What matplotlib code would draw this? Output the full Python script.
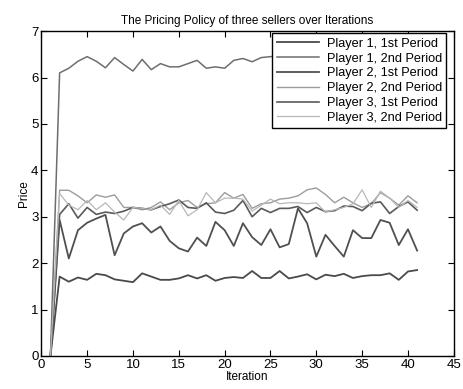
import numpy as np
import matplotlib
matplotlib.use('Agg')
import matplotlib.pyplot as plt

# ── Data
iterations = list(range(1, 42))

p1_first = [0, 1.71, 1.60, 1.69, 1.64, 1.77, 1.74, 1.65, 1.62, 1.59, 1.78,
            1.71, 1.64, 1.64, 1.67, 1.74, 1.67, 1.74, 1.62, 1.68, 1.70,
            1.68, 1.83, 1.68, 1.68, 1.83, 1.67, 1.71, 1.76, 1.65, 1.75,
            1.72, 1.77, 1.68, 1.72, 1.74, 1.74, 1.78, 1.64, 1.82, 1.85]

p1_second = [0, 6.10, 6.20, 6.35, 6.45, 6.35, 6.21, 6.43, 6.28, 6.14, 6.39,
             6.17, 6.30, 6.23, 6.23, 6.30, 6.37, 6.20, 6.23, 6.20, 6.37,
             6.41, 6.34, 6.43, 6.45, 6.46, 6.45, 6.48, 6.47, 6.50, 6.48,
             6.50, 6.49, 6.51, 6.50, 6.52, 6.50, 6.51, 6.52, 6.50, 6.52]

p2_first = [0, 2.93, 2.10, 2.71, 2.87, 2.96, 3.04, 2.17, 2.64, 2.79, 2.86,
            2.66, 2.79, 2.48, 2.32, 2.25, 2.55, 2.37, 2.89, 2.71, 2.37,
            2.86, 2.56, 2.39, 2.73, 2.34, 2.41, 3.18, 2.86, 2.14, 2.61,
            2.37, 2.14, 2.71, 2.54, 2.54, 2.93, 2.87, 2.39, 2.73, 2.27]

p2_second = [0, 3.57, 3.57, 3.45, 3.30, 3.47, 3.42, 3.47, 3.20, 3.20, 3.15,
             3.20, 3.32, 3.15, 3.30, 3.35, 3.20, 3.28, 3.30, 3.52, 3.40,
             3.48, 3.18, 3.28, 3.30, 3.38, 3.40, 3.45, 3.58, 3.62, 3.48,
             3.30, 3.42, 3.30, 3.20, 3.28, 3.52, 3.40, 3.25, 3.45, 3.30]

p3_first = [0, 3.05, 3.28, 2.97, 3.20, 3.05, 3.10, 3.07, 3.12, 3.20, 3.18,
            3.15, 3.22, 3.28, 3.36, 3.20, 3.18, 3.30, 3.10, 3.07, 3.14,
            3.35, 3.00, 3.18, 3.09, 3.18, 3.18, 3.22, 3.09, 3.20, 3.11,
            3.13, 3.23, 3.22, 3.13, 3.29, 3.32, 3.07, 3.22, 3.32, 3.14]

p3_second = [0, 3.50, 3.25, 3.15, 3.35, 3.15, 3.30, 3.10, 2.93, 3.20, 3.18,
             3.15, 3.25, 3.05, 3.35, 3.02, 3.15, 3.52, 3.30, 3.40, 3.40,
             3.38, 3.12, 3.25, 3.38, 3.28, 3.30, 3.30, 3.28, 3.30, 3.10,
             3.15, 3.20, 3.28, 3.58, 3.20, 3.55, 3.40, 3.20, 3.35, 3.20]

labels = ['Player 1, 1st Period', 'Player 1, 2nd Period',
          'Player 2, 1st Period', 'Player 2, 2nd Period',
          'Player 3, 1st Period', 'Player 3, 2nd Period']
series = [p1_first, p1_second, p2_first, p2_second, p3_first, p3_second]

# grayscale look of the scan
colors = ['#4a4a4a', '#6e6e6e', '#505050', '#9c9c9c', '#5a5a5a', '#b8b8b8']
widths = [1.3, 1.1, 1.3, 1.0, 1.2, 0.9]

plt.rcParams['font.family'] = ['Liberation Sans', 'DejaVu Sans']

fig = plt.figure(figsize=(4.64, 3.89), dpi=100)
ax = fig.add_axes([0.089, 0.085, 0.889, 0.835])

for y, lab, c, lw in zip(series, labels, colors, widths):
    ax.plot(iterations, y, color=c, linewidth=lw, label=lab)

ax.set_xlim(0, 45)
ax.set_ylim(0, 7)
ax.set_xticks(range(0, 46, 5))
ax.set_yticks(range(0, 8))
ax.tick_params(direction='in', top=True, right=True, labelsize=9.5,
               length=4, width=0.8, pad=2)
for s in ax.spines.values():
    s.set_linewidth(1.0)

ax.set_title('The Pricing Policy of three sellers over Iterations',
             fontsize=8.5, pad=5)
ax.set_xlabel('Iteration', fontsize=8.5, labelpad=0)
ax.set_ylabel('Price', fontsize=8.5, labelpad=1)

leg = ax.legend(loc='upper right', bbox_to_anchor=(0.982, 0.993),
                fontsize=9.2, frameon=True, fancybox=False,
                edgecolor='black', framealpha=1, handlelength=3.3,
                labelspacing=0.22, borderpad=0.35, handletextpad=0.6,
                borderaxespad=0.0)
leg.get_frame().set_linewidth(1.0)

plt.savefig('out.png', dpi=100)
plt.close()
